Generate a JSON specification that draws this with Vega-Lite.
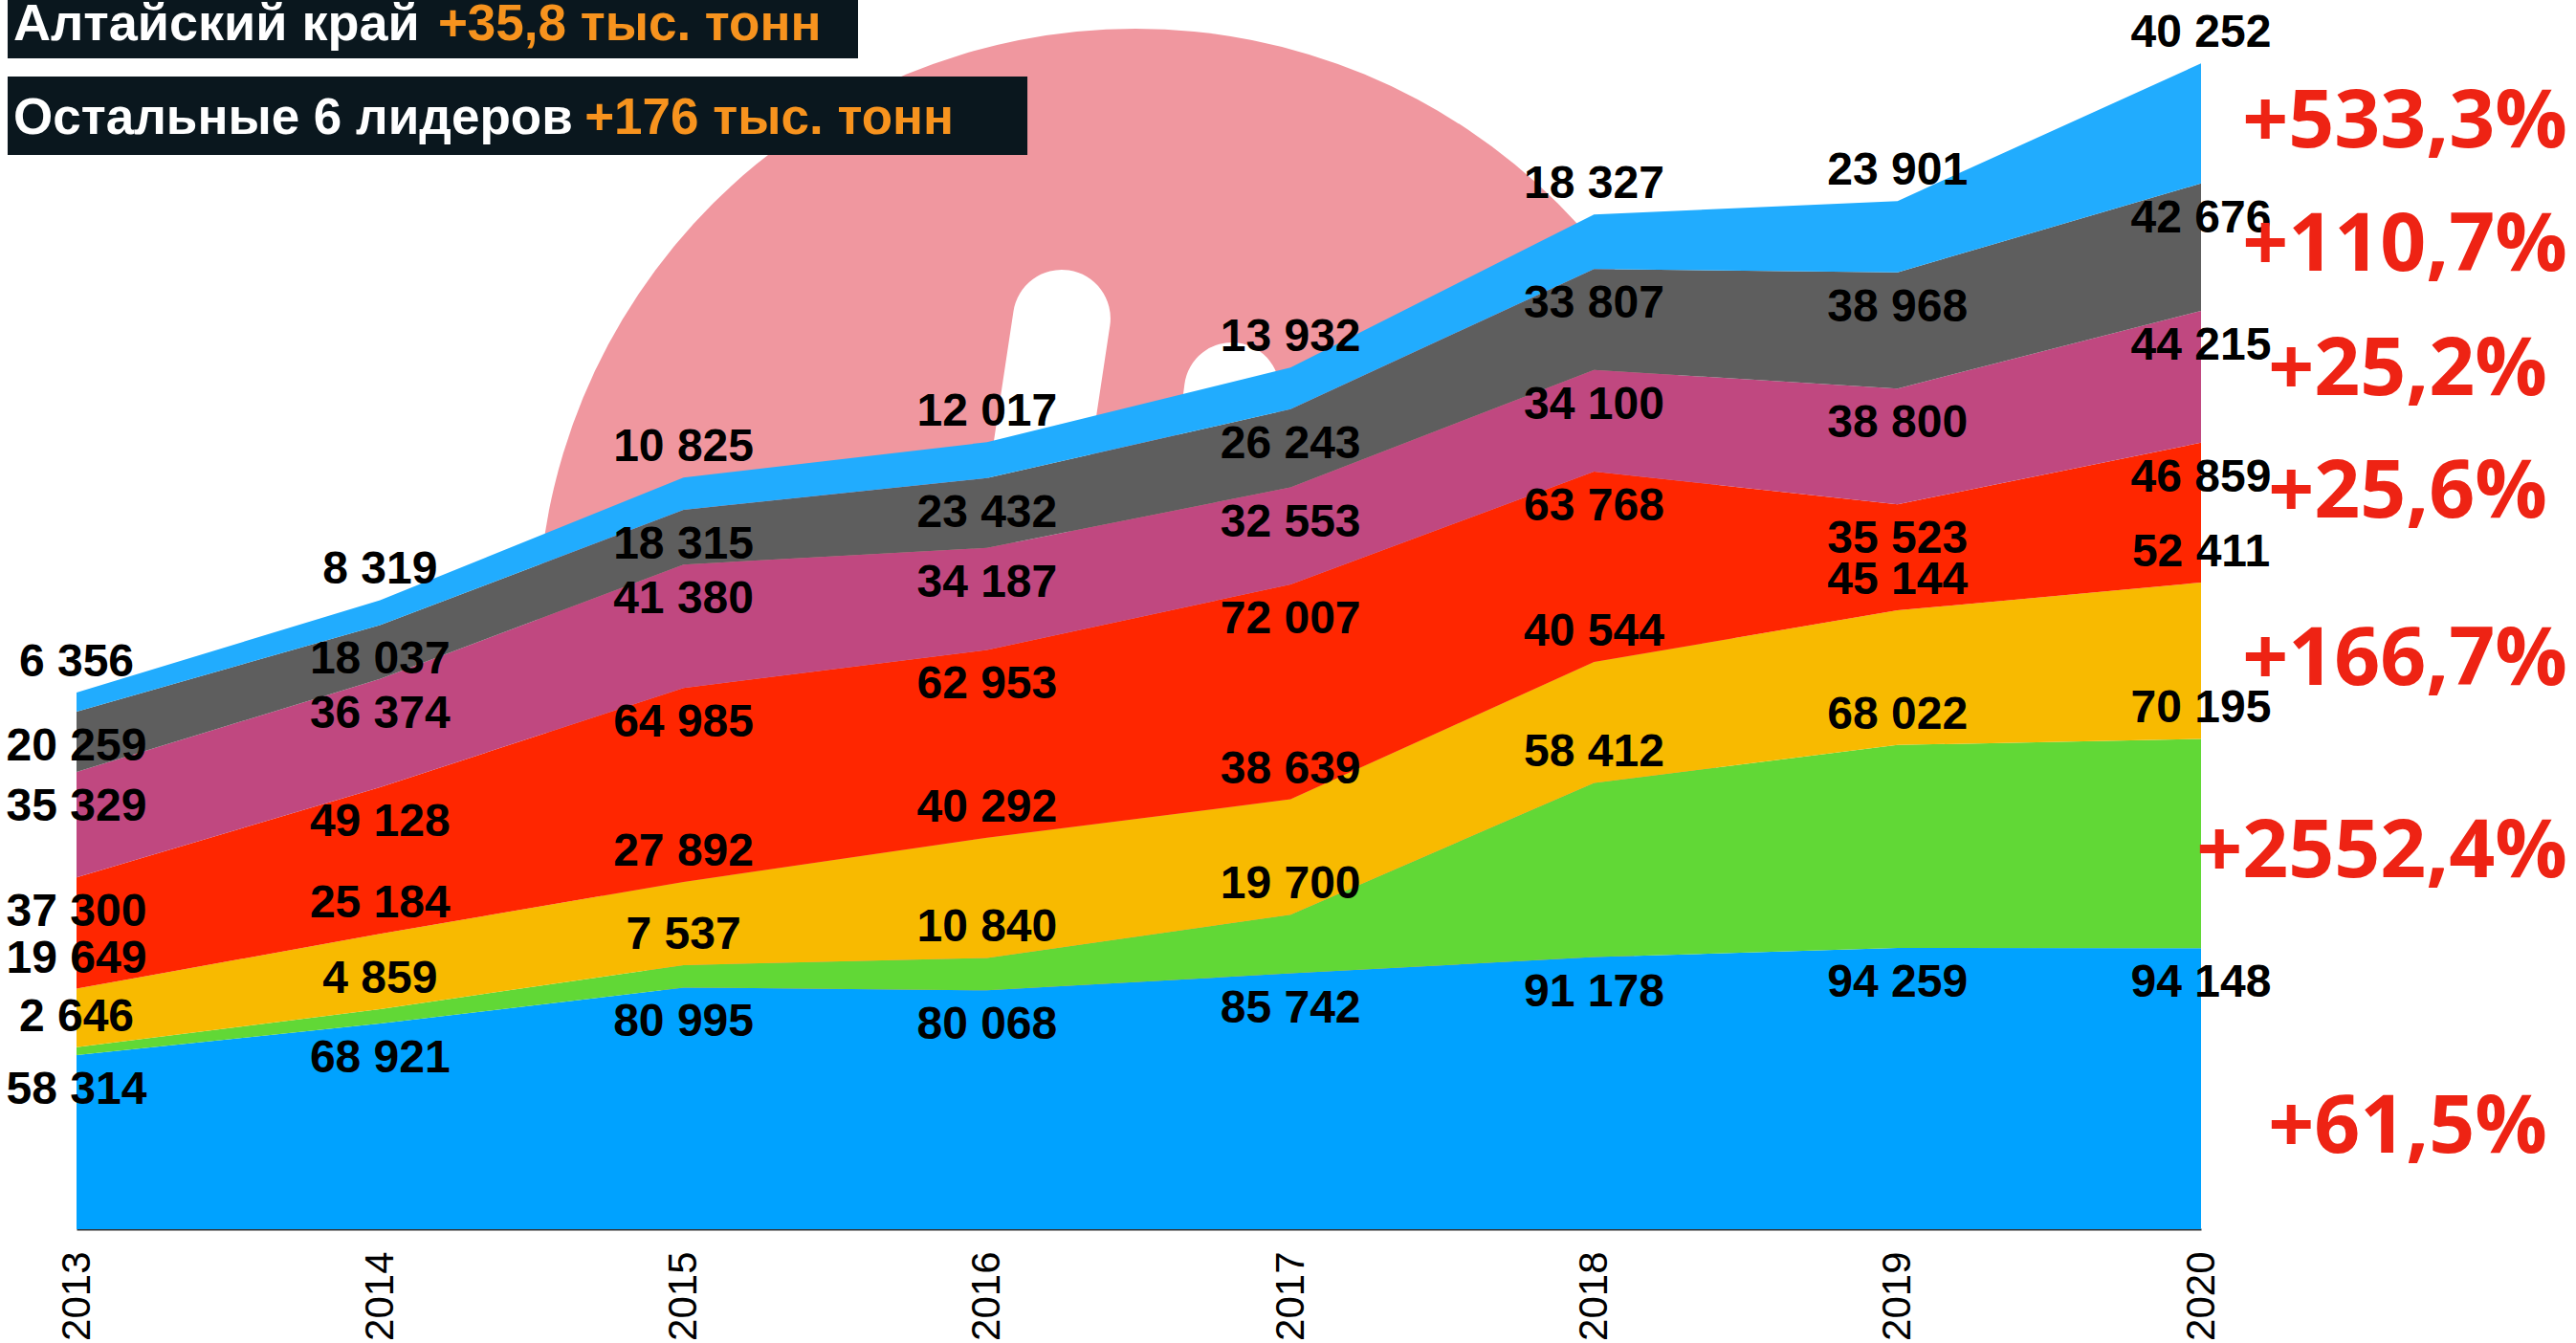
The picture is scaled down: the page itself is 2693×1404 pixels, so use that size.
{
  "$schema": "https://vega.github.io/schema/vega-lite/v6.json",
  "width": 2221,
  "height": 1285,
  "autosize": {"type": "none"},
  "padding": {"left": 80, "top": 0, "right": 392, "bottom": 119},
  "background": "white",
  "config": {
    "view": {"stroke": null},
    "locale": {"number": {"decimal": ",", "thousands": " ", "grouping": [3], "currency": ["", ""]}}
  },
  "data": {"values": [
    {"year": 2013, "series": "s1", "v": 58314},
    {"year": 2014, "series": "s1", "v": 68921},
    {"year": 2015, "series": "s1", "v": 80995},
    {"year": 2016, "series": "s1", "v": 80068},
    {"year": 2017, "series": "s1", "v": 85742},
    {"year": 2018, "series": "s1", "v": 91178},
    {"year": 2019, "series": "s1", "v": 94259},
    {"year": 2020, "series": "s1", "v": 94148, "pct": "+61,5%"},
    {"year": 2013, "series": "s2", "v": 2646},
    {"year": 2014, "series": "s2", "v": 4859},
    {"year": 2015, "series": "s2", "v": 7537},
    {"year": 2016, "series": "s2", "v": 10840},
    {"year": 2017, "series": "s2", "v": 19700},
    {"year": 2018, "series": "s2", "v": 58412},
    {"year": 2019, "series": "s2", "v": 68022},
    {"year": 2020, "series": "s2", "v": 70195, "pct": "+2552,4%"},
    {"year": 2013, "series": "s3", "v": 19649},
    {"year": 2014, "series": "s3", "v": 25184},
    {"year": 2015, "series": "s3", "v": 27892},
    {"year": 2016, "series": "s3", "v": 40292},
    {"year": 2017, "series": "s3", "v": 38639},
    {"year": 2018, "series": "s3", "v": 40544},
    {"year": 2019, "series": "s3", "v": 45144},
    {"year": 2020, "series": "s3", "v": 52411, "pct": "+166,7%"},
    {"year": 2013, "series": "s4", "v": 37300},
    {"year": 2014, "series": "s4", "v": 49128},
    {"year": 2015, "series": "s4", "v": 64985},
    {"year": 2016, "series": "s4", "v": 62953},
    {"year": 2017, "series": "s4", "v": 72007},
    {"year": 2018, "series": "s4", "v": 63768},
    {"year": 2019, "series": "s4", "v": 35523},
    {"year": 2020, "series": "s4", "v": 46859, "pct": "+25,6%"},
    {"year": 2013, "series": "s5", "v": 35329},
    {"year": 2014, "series": "s5", "v": 36374},
    {"year": 2015, "series": "s5", "v": 41380},
    {"year": 2016, "series": "s5", "v": 34187},
    {"year": 2017, "series": "s5", "v": 32553},
    {"year": 2018, "series": "s5", "v": 34100},
    {"year": 2019, "series": "s5", "v": 38800},
    {"year": 2020, "series": "s5", "v": 44215, "pct": "+25,2%"},
    {"year": 2013, "series": "s6", "v": 20259},
    {"year": 2014, "series": "s6", "v": 18037},
    {"year": 2015, "series": "s6", "v": 18315},
    {"year": 2016, "series": "s6", "v": 23432},
    {"year": 2017, "series": "s6", "v": 26243},
    {"year": 2018, "series": "s6", "v": 33807},
    {"year": 2019, "series": "s6", "v": 38968},
    {"year": 2020, "series": "s6", "v": 42676, "pct": "+110,7%"},
    {"year": 2013, "series": "s7", "v": 6356},
    {"year": 2014, "series": "s7", "v": 8319},
    {"year": 2015, "series": "s7", "v": 10825},
    {"year": 2016, "series": "s7", "v": 12017},
    {"year": 2017, "series": "s7", "v": 13932},
    {"year": 2018, "series": "s7", "v": 18327},
    {"year": 2019, "series": "s7", "v": 23901},
    {"year": 2020, "series": "s7", "v": 40252, "pct": "+533,3%"}
  ]},
  "layer": [
    {
      "data": {"values": [{}]},
      "mark": {"type": "point", "shape": "circle", "filled": true, "color": "#f0979f", "opacity": 1, "size": 1562500, "strokeWidth": 0},
      "encoding": {
        "x": {"datum": 2016.489, "type": "quantitative", "scale": {"domain": [2013, 2020], "nice": false, "zero": false}},
        "y": {"datum": 202000, "type": "quantitative", "scale": {"domain": [0, 412000], "nice": false, "zero": true}, "axis": null}
      }
    },
    {
      "data": {"values": [{}]},
      "mark": {"type": "rule", "color": "white", "strokeWidth": 102, "strokeCap": "round"},
      "encoding": {
        "x": {"datum": 2016.246, "type": "quantitative", "scale": {"domain": [2013, 2020], "nice": false, "zero": false}},
        "y": {"datum": 305233, "type": "quantitative", "scale": {"domain": [0, 412000], "nice": false, "zero": true}, "axis": null},
        "x2": {"datum": 2016.157},
        "y2": {"datum": 245277}
      }
    },
    {
      "data": {"values": [{}]},
      "mark": {"type": "rule", "color": "white", "strokeWidth": 100, "strokeCap": "round"},
      "encoding": {
        "x": {"datum": 2016.807, "type": "quantitative", "scale": {"domain": [2013, 2020], "nice": false, "zero": false}},
        "y": {"datum": 281186, "type": "quantitative", "scale": {"domain": [0, 412000], "nice": false, "zero": true}, "axis": null},
        "x2": {"datum": 2016.782},
        "y2": {"datum": 261308}
      }
    },
    {
      "transform": [
        {"stack": "v", "groupby": ["year"], "sort": [{"field": "series", "order": "ascending"}], "as": ["y0", "y1"]},
        {"calculate": "(datum.y0 + datum.y1) / 2", "as": "mid"}
      ],
      "layer": [
        {
          "mark": {"type": "area", "interpolate": "linear"},
          "encoding": {
            "x": {"field": "year", "type": "quantitative", "scale": {"domain": [2013, 2020], "nice": false, "zero": false},
              "axis": {"values": [2013, 2014, 2015, 2016, 2017, 2018, 2019, 2020], "format": "d", "title": null, "grid": false,
                "labelAngle": -90, "labelFontSize": 42, "labelFont": "Liberation Sans", "labelColor": "#000000",
                "labelPadding": 23, "ticks": false, "tickSize": 0, "domain": true, "domainColor": "#333333", "domainWidth": 2,
                "labelFlush": false, "labelOverlap": false}},
            "y": {"field": "y1", "type": "quantitative", "scale": {"domain": [0, 412000], "nice": false, "zero": true}, "axis": null},
            "y2": {"field": "y0"},
            "color": {"field": "series", "type": "nominal", "legend": null,
              "scale": {"domain": ["s1", "s2", "s3", "s4", "s5", "s6", "s7"],
                "range": ["#00a2ff", "#61d836", "#f8ba00", "#ff2600", "#c04880", "#5e5e5e", "#21acfe"]}}
          }
        },
        {
          "transform": [{"filter": {"field": "series", "oneOf": ["s1", "s4", "s5", "s6"]}}],
          "mark": {"type": "text", "font": "Liberation Sans", "fontWeight": "bold", "fontSize": 48, "color": "#000000", "align": "center", "baseline": "middle", "dy": 37},
          "encoding": {
            "x": {"field": "year", "type": "quantitative", "scale": {"domain": [2013, 2020], "nice": false, "zero": false}},
            "y": {"field": "y1", "type": "quantitative", "scale": {"domain": [0, 412000], "nice": false, "zero": true}, "axis": null},
            "text": {"field": "v", "type": "quantitative", "format": ",d"}
          }
        },
        {
          "transform": [{"filter": {"field": "series", "oneOf": ["s2", "s3", "s7"]}}],
          "mark": {"type": "text", "font": "Liberation Sans", "fontWeight": "bold", "fontSize": 48, "color": "#000000", "align": "center", "baseline": "middle", "dy": -31},
          "encoding": {
            "x": {"field": "year", "type": "quantitative", "scale": {"domain": [2013, 2020], "nice": false, "zero": false}},
            "y": {"field": "y1", "type": "quantitative", "scale": {"domain": [0, 412000], "nice": false, "zero": true}, "axis": null},
            "text": {"field": "v", "type": "quantitative", "format": ",d"}
          }
        },
        {
          "transform": [{"filter": "datum.year == 2020"}, {"filter": {"field": "series", "oneOf": ["s3", "s6", "s7"]}}],
          "mark": {"type": "text", "font": "Open Sans", "fontWeight": "bold", "fontSize": 84, "color": "#ee2314", "align": "right", "baseline": "middle", "dx": 383},
          "encoding": {
            "x": {"field": "year", "type": "quantitative", "scale": {"domain": [2013, 2020], "nice": false, "zero": false}},
            "y": {"field": "mid", "type": "quantitative", "scale": {"domain": [0, 412000], "nice": false, "zero": true}, "axis": null},
            "text": {"field": "pct", "type": "nominal"}
          }
        },
        {
          "transform": [{"filter": "datum.year == 2020"}, {"filter": {"field": "series", "oneOf": ["s2"]}}],
          "mark": {"type": "text", "font": "Open Sans", "fontWeight": "bold", "fontSize": 84, "color": "#ee2314", "align": "right", "baseline": "middle", "dx": 383, "dy": 10},
          "encoding": {
            "x": {"field": "year", "type": "quantitative", "scale": {"domain": [2013, 2020], "nice": false, "zero": false}},
            "y": {"field": "mid", "type": "quantitative", "scale": {"domain": [0, 412000], "nice": false, "zero": true}, "axis": null},
            "text": {"field": "pct", "type": "nominal"}
          }
        },
        {
          "transform": [{"filter": "datum.year == 2020"}, {"filter": {"field": "series", "oneOf": ["s5"]}}],
          "mark": {"type": "text", "font": "Open Sans", "fontWeight": "bold", "fontSize": 84, "color": "#ee2314", "align": "right", "baseline": "middle", "dx": 362, "dy": -6},
          "encoding": {
            "x": {"field": "year", "type": "quantitative", "scale": {"domain": [2013, 2020], "nice": false, "zero": false}},
            "y": {"field": "mid", "type": "quantitative", "scale": {"domain": [0, 412000], "nice": false, "zero": true}, "axis": null},
            "text": {"field": "pct", "type": "nominal"}
          }
        },
        {
          "transform": [{"filter": "datum.year == 2020"}, {"filter": {"field": "series", "oneOf": ["s4"]}}],
          "mark": {"type": "text", "font": "Open Sans", "fontWeight": "bold", "fontSize": 84, "color": "#ee2314", "align": "right", "baseline": "middle", "dx": 362, "dy": -20},
          "encoding": {
            "x": {"field": "year", "type": "quantitative", "scale": {"domain": [2013, 2020], "nice": false, "zero": false}},
            "y": {"field": "mid", "type": "quantitative", "scale": {"domain": [0, 412000], "nice": false, "zero": true}, "axis": null},
            "text": {"field": "pct", "type": "nominal"}
          }
        },
        {
          "transform": [{"filter": "datum.year == 2020"}, {"filter": {"field": "series", "oneOf": ["s1"]}}],
          "mark": {"type": "text", "font": "Open Sans", "fontWeight": "bold", "fontSize": 84, "color": "#ee2314", "align": "right", "baseline": "middle", "dx": 362, "dy": 42},
          "encoding": {
            "x": {"field": "year", "type": "quantitative", "scale": {"domain": [2013, 2020], "nice": false, "zero": false}},
            "y": {"field": "mid", "type": "quantitative", "scale": {"domain": [0, 412000], "nice": false, "zero": true}, "axis": null},
            "text": {"field": "pct", "type": "nominal"}
          }
        }
      ]
    },
    {
      "data": {"values": [{}]},
      "mark": {"type": "rect", "color": "#0a171e"},
      "encoding": {
        "x": {"datum": 2012.773, "type": "quantitative", "scale": {"domain": [2013, 2020], "nice": false, "zero": false}},
        "x2": {"datum": 2015.575},
        "y": {"datum": 392439, "type": "quantitative", "scale": {"domain": [0, 412000], "nice": false, "zero": true}, "axis": null},
        "y2": {"datum": 412000}
      }
    },
    {
      "data": {"values": [{}]},
      "mark": {"type": "rect", "color": "#0a171e"},
      "encoding": {
        "x": {"datum": 2012.773, "type": "quantitative", "scale": {"domain": [2013, 2020], "nice": false, "zero": false}},
        "x2": {"datum": 2016.133},
        "y": {"datum": 360060, "type": "quantitative", "scale": {"domain": [0, 412000], "nice": false, "zero": true}, "axis": null},
        "y2": {"datum": 386351}
      }
    },
    {
      "data": {"values": [{}]},
      "mark": {"type": "text", "text": "Алтайский край", "font": "Liberation Sans", "fontWeight": "bold", "fontSize": 54, "color": "#ffffff", "align": "left", "baseline": "alphabetic"},
      "encoding": {
        "x": {"datum": 2012.792, "type": "quantitative", "scale": {"domain": [2013, 2020], "nice": false, "zero": false}},
        "y": {"datum": 398534, "type": "quantitative", "scale": {"domain": [0, 412000], "nice": false, "zero": true}, "axis": null}
      }
    },
    {
      "data": {"values": [{}]},
      "mark": {"type": "text", "text": "+35,8 тыс. тонн", "font": "Liberation Sans", "fontWeight": "bold", "fontSize": 53, "color": "#f7931e", "align": "left", "baseline": "alphabetic"},
      "encoding": {
        "x": {"datum": 2014.191, "type": "quantitative", "scale": {"domain": [2013, 2020], "nice": false, "zero": false}},
        "y": {"datum": 398534, "type": "quantitative", "scale": {"domain": [0, 412000], "nice": false, "zero": true}, "axis": null}
      }
    },
    {
      "data": {"values": [{}]},
      "mark": {"type": "text", "text": "Остальные 6 лидеров", "font": "Liberation Sans", "fontWeight": "bold", "fontSize": 53, "color": "#ffffff", "align": "left", "baseline": "alphabetic"},
      "encoding": {
        "x": {"datum": 2012.792, "type": "quantitative", "scale": {"domain": [2013, 2020], "nice": false, "zero": false}},
        "y": {"datum": 367113, "type": "quantitative", "scale": {"domain": [0, 412000], "nice": false, "zero": true}, "axis": null}
      }
    },
    {
      "data": {"values": [{}]},
      "mark": {"type": "text", "text": "+176 тыс. тонн", "font": "Liberation Sans", "fontWeight": "bold", "fontSize": 53, "color": "#f7931e", "align": "left", "baseline": "alphabetic"},
      "encoding": {
        "x": {"datum": 2014.674, "type": "quantitative", "scale": {"domain": [2013, 2020], "nice": false, "zero": false}},
        "y": {"datum": 367113, "type": "quantitative", "scale": {"domain": [0, 412000], "nice": false, "zero": true}, "axis": null}
      }
    }
  ]
}
